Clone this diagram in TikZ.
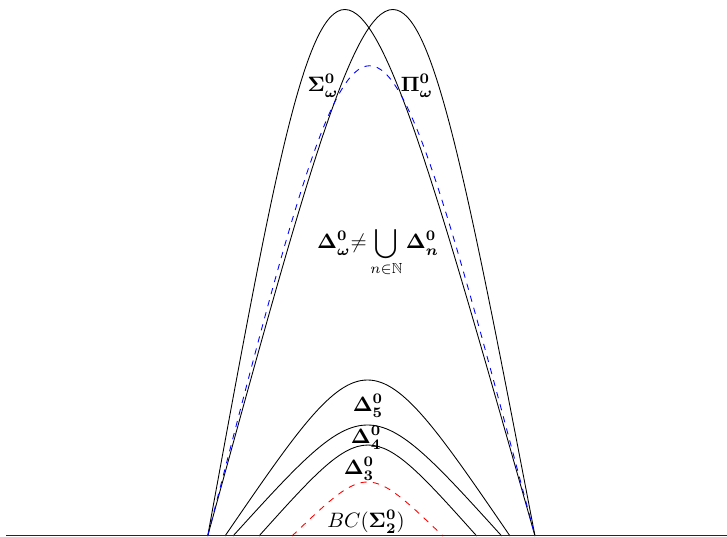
\documentclass[tikz,border=0pt]{standalone}
\usepackage{amsmath,amssymb}
\begin{document}
\begin{tikzpicture}[x=0.48pt,y=-0.48pt,
  curve/.style={black,line width=0.42pt},
  lbl/.style={inner sep=0pt}]
\useasboundingbox (0,0) rectangle (727,537);
% feet and controls
\coordinate (L) at (207.7,536);
\coordinate (R) at (535,536);
\coordinate (cS) at (336,-166);
\coordinate (cP) at (400,-166);
\coordinate (cB) at (369,-91);
\draw[curve] (L) .. controls (cS) .. (R);
\draw[curve] (L) .. controls (cP) .. (R);
\draw[blue,dashed,line width=0.42pt] (L) .. controls (cB) .. (R);
% Delta curves
\coordinate (L5) at (225,536); \coordinate (R5) at (510,536); \coordinate (c5) at (367.5,328);
\coordinate (L4) at (233,536); \coordinate (R4) at (501.7,536); \coordinate (c4) at (367.5,388);
\coordinate (L3) at (259,536); \coordinate (R3) at (476.7,536); \coordinate (c3) at (368,414.7);
\coordinate (LB) at (292,536); \coordinate (RB) at (443,536); \coordinate (cBC) at (367.5,464);
\draw[curve] (L5) .. controls (c5) .. (R5);
\draw[curve] (L4) .. controls (c4) .. (R4);
\draw[curve] (L3) .. controls (c3) .. (R3);
\draw[red,dashed,line width=0.42pt] (LB) .. controls (cBC) .. (RB);
% base line
\coordinate (B0) at (6,535.8);
\coordinate (B1) at (727,535.8);
\draw[line width=0.55pt,black!85] (B0) -- (B1);
% labels
\node[lbl] (sig) at (323,86) {$\boldsymbol{\Sigma^0_\omega}$};
\node[lbl] (pi) at (417,86) {$\boldsymbol{\Pi^0_\omega}$};
\node[lbl,anchor=base] (union) at (378,249) {$\displaystyle\boldsymbol{\Delta^0_\omega}{\neq}\bigcup_{n\in\mathbb{N}}\boldsymbol{\Delta^0_n}$};
\node[lbl] (d5) at (368,406) {$\boldsymbol{\Delta^0_5}$};
\node[lbl] (d4) at (366,438) {$\boldsymbol{\Delta^0_4}$};
\node[lbl] (d3) at (359,469) {$\boldsymbol{\Delta^0_3}$};
\node[lbl] (bc) at (366,522) {$BC(\boldsymbol{\Sigma^0_2})$};
\end{tikzpicture}
\end{document}
